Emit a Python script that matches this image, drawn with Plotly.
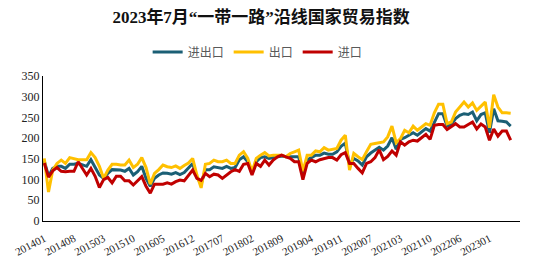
import plotly.graph_objects as go

# categories: monthly 2014-01 .. 2023-07, February missing from 2020 on (Jan-Feb combined)
categories = []
for y in range(2014, 2024):
    for m in range(1, 13):
        if y == 2023 and m > 7:
            break
        if y >= 2020 and m == 2:
            continue
        categories.append(f"{y}{m:02d}")

tick_labels = ["201401", "201408", "201503", "201510", "201605", "201612", "201707",
               "201802", "201809", "201904", "201911", "202007", "202103", "202110",
               "202206", "202301"]

total = [145, 108, 127, 132, 132, 127, 137, 137, 139, 135, 132, 148, 131, 111, 103, 115,
         124, 124, 123, 120, 127, 111, 119, 132, 103, 84, 103, 111, 116, 115, 113, 117,
         112, 117, 127, 139, 105, 90, 124, 124, 131, 129, 127, 132, 127, 129, 148, 155,
         143, 115, 143, 153, 155, 151, 153, 155, 157, 155, 155, 155, 155, 112, 147, 153,
         159, 159, 164, 161, 161, 167, 180, 188, 135, 151, 145, 135, 155, 164, 171, 178,
         171, 181, 201, 173, 197, 201, 207, 213, 207, 215, 223, 217, 239, 259, 259, 229,
         233, 247, 255, 259, 257, 263, 242, 257, 261, 213, 271, 242, 241, 239, 229]

export = [151, 70, 123, 139, 147, 139, 153, 151, 148, 148, 148, 165, 153, 132, 103, 123,
          137, 137, 135, 135, 147, 129, 137, 153, 129, 89, 115, 124, 135, 131, 129, 133,
          127, 134, 140, 151, 111, 80, 137, 139, 147, 143, 143, 147, 139, 139, 159, 167,
          151, 119, 151, 159, 165, 157, 159, 159, 159, 155, 163, 167, 171, 120, 159, 159,
          169, 167, 177, 171, 173, 175, 195, 207, 123, 163, 155, 148, 167, 185, 187, 189,
          191, 203, 229, 189, 199, 219, 213, 229, 219, 227, 235, 231, 261, 282, 282, 235,
          239, 263, 275, 287, 275, 285, 267, 277, 287, 225, 305, 275, 261, 261, 260]

imports = [140, 106, 121, 129, 120, 119, 120, 120, 143, 127, 111, 127, 108, 81, 100, 105,
           92, 108, 108, 97, 97, 87, 97, 107, 84, 67, 89, 89, 89, 92, 89, 95,
           99, 97, 110, 123, 103, 98, 115, 107, 113, 111, 103, 111, 119, 124, 120, 137,
           139, 111, 139, 132, 147, 135, 147, 155, 159, 155, 151, 143, 143, 100, 139, 147,
           143, 148, 151, 153, 153, 147, 160, 165, 139, 139, 127, 116, 139, 143, 153, 172,
           148, 156, 169, 159, 191, 183, 191, 195, 193, 201, 209, 197, 231, 233, 233, 221,
           227, 235, 227, 227, 233, 239, 222, 234, 227, 195, 222, 205, 217, 217, 195]

series = [("进出口", total, "#1B5F75"), ("出口", export, "#FFC000"), ("进口", imports, "#C00000")]

fig = go.Figure()
for name, vals, color in series:
    fig.add_trace(go.Scatter(x=categories, y=vals, mode="lines", name=name,
                             line=dict(color=color, width=3)))

serif = "Liberation Serif, Noto Sans CJK SC"
fig.update_layout(
    width=534, height=267,
    margin=dict(l=43, r=14, t=76, b=46),
    paper_bgcolor="white", plot_bgcolor="white",
    title=dict(text="<b>2023年7月“一带一路”沿线国家贸易指数</b>",
               x=0.489, xanchor="center", y=0.935, yanchor="middle",
               font=dict(family=serif, size=17, color="#111111")),
    legend=dict(orientation="h", x=0.45, xanchor="center", y=1.165, yanchor="middle",
                font=dict(family="Noto Sans CJK SC", size=12, color="#595959"),
                itemwidth=30, tracegroupgap=0, bgcolor="rgba(0,0,0,0)"),
    showlegend=True,
)
fig.update_xaxes(type="category", categoryorder="array", categoryarray=categories,
                 range=[-0.3, 112.2], tickmode="array", tickvals=tick_labels,
                 ticktext=tick_labels, tickangle=-28, showgrid=False,
                 showline=True, linecolor="black", linewidth=1, ticks="",
                 ticklabelstandoff=6, automargin=False,
                 tickfont=dict(family=serif, size=11, color="#222222"))
fig.update_yaxes(range=[0, 350], dtick=50, showgrid=False, showline=True,
                 linecolor="black", linewidth=1, ticks="", zeroline=False,
                 automargin=False,
                 tickfont=dict(family=serif, size=12, color="#222222"))

fig.write_html("out.html")
